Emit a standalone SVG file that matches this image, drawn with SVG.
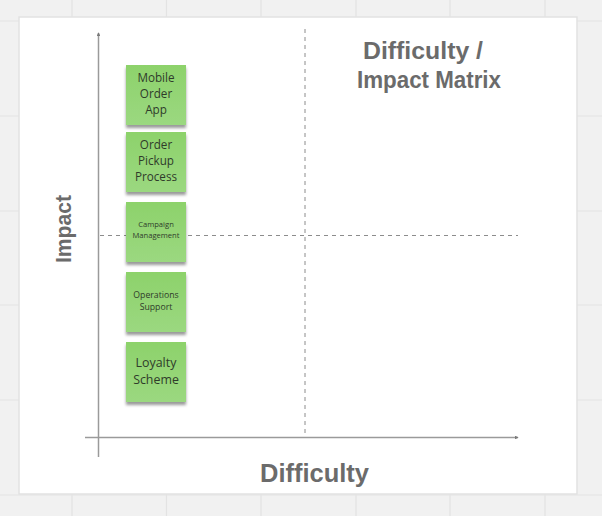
<svg xmlns="http://www.w3.org/2000/svg" width="602" height="516" viewBox="0 0 602 516">
<style>
.grid{stroke:#e3e3e3;stroke-width:1.2}
.axis{stroke:#9a9a9a;stroke-width:1.5;fill:none}
.dash{stroke:#8c8c8c;stroke-width:1;stroke-dasharray:4 4;fill:none}
.big{font-family:"Liberation Sans",Arial,sans-serif;font-weight:bold;fill:#6b6b6b}
.note{fill:url(#g)}
.nt{font-family:"Open Sans","Liberation Sans",sans-serif;fill:#2f3b2a;text-anchor:middle}
</style>
<defs>
<linearGradient id="g" x1="0" y1="0" x2="0" y2="1">
<stop offset="0" stop-color="#8dd26b"/>
<stop offset="1" stop-color="#9bd880"/>
</linearGradient>
<filter id="sh" x="-20%" y="-20%" width="140%" height="150%">
<feDropShadow dx="0" dy="3" stdDeviation="1.8" flood-color="#000" flood-opacity="0.4"/>
</filter>
<marker id="ah" viewBox="0 0 6 6" refX="5" refY="3" markerWidth="2.6" markerHeight="2.6" orient="auto">
<path d="M0,0 L6,3 L0,6 z" fill="#7a7a7a"/>
</marker>
</defs>
<rect width="602" height="516" fill="#f1f1f1"/>
<g id="grid">
<line class="grid" x1="72" y1="0" x2="72" y2="516"/>
<line class="grid" x1="166.5" y1="0" x2="166.5" y2="516"/>
<line class="grid" x1="261" y1="0" x2="261" y2="516"/>
<line class="grid" x1="356" y1="0" x2="356" y2="516"/>
<line class="grid" x1="450" y1="0" x2="450" y2="516"/>
<line class="grid" x1="545" y1="0" x2="545" y2="516"/>
<line class="grid" x1="0" y1="21" x2="602" y2="21"/>
<line class="grid" x1="0" y1="116" x2="602" y2="116"/>
<line class="grid" x1="0" y1="211" x2="602" y2="211"/>
<line class="grid" x1="0" y1="305" x2="602" y2="305"/>
<line class="grid" x1="0" y1="400" x2="602" y2="400"/>
<line class="grid" x1="0" y1="495" x2="602" y2="495"/>
</g>
<rect id="board" x="19" y="17" width="558" height="477" fill="#ffffff" stroke="#e2e2e2" stroke-width="1.5"/>
<g id="connectors">
<line class="axis" x1="98.5" y1="457" x2="98.5" y2="33" marker-end="url(#ah)"/>
<line class="axis" x1="85" y1="437.5" x2="518" y2="437.5" marker-end="url(#ah)"/>
<line class="dash" x1="305" y1="29" x2="305" y2="437"/>
<line class="dash" x1="100" y1="235.5" x2="518" y2="235.5"/>
</g>
<g id="title">
<text class="big" x="423" y="59" font-size="23" text-anchor="middle" textLength="120" lengthAdjust="spacingAndGlyphs">Difficulty /</text>
<text class="big" x="429" y="88" font-size="23" text-anchor="middle" textLength="144" lengthAdjust="spacingAndGlyphs">Impact Matrix</text>
</g>
<g id="label-difficulty">
<text class="big" x="314.5" y="482" font-size="25" text-anchor="middle" textLength="109" lengthAdjust="spacingAndGlyphs">Difficulty</text>
</g>
<g id="label-impact">
<text class="big" transform="translate(71,229) rotate(-90)" font-size="22" text-anchor="middle" textLength="68" lengthAdjust="spacingAndGlyphs">Impact</text>
</g>
<g id="note-mobile">
<rect class="note" x="126" y="65" width="60" height="60" filter="url(#sh)"/>
<text class="nt" font-size="11.7"><tspan x="156" y="82">Mobile</tspan><tspan x="156" y="98">Order</tspan><tspan x="156" y="114">App</tspan></text>
</g>
<g id="note-pickup">
<rect class="note" x="126" y="132" width="60" height="60" filter="url(#sh)"/>
<text class="nt" font-size="11.7"><tspan x="156" y="149">Order</tspan><tspan x="156" y="165">Pickup</tspan><tspan x="156" y="181">Process</tspan></text>
</g>
<g id="note-campaign">
<rect class="note" x="126" y="202" width="60" height="60" filter="url(#sh)"/>
<text class="nt" font-size="7.6"><tspan x="156" y="227">Campaign</tspan><tspan x="156" y="238">Management</tspan></text>
</g>
<g id="note-operations">
<rect class="note" x="126" y="272" width="60" height="60" filter="url(#sh)"/>
<text class="nt" font-size="8.7"><tspan x="156" y="298">Operations</tspan><tspan x="156" y="310">Support</tspan></text>
</g>
<g id="note-loyalty">
<rect class="note" x="126" y="342" width="60" height="60" filter="url(#sh)"/>
<text class="nt" font-size="12.4"><tspan x="156" y="367">Loyalty</tspan><tspan x="156" y="384">Scheme</tspan></text>
</g>
</svg>
